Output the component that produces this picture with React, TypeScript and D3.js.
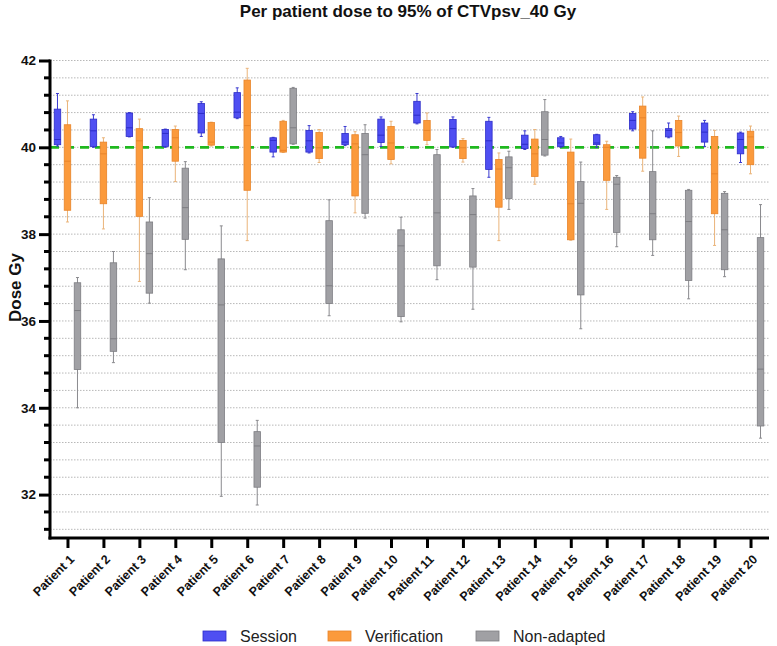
import React, { useRef, useEffect } from 'react';
import * as d3 from 'd3';

// values: [min, q1, median, q3, max] per patient
const patients = d3.range(1, 21).map(i => `Patient ${i}`);

const sessionStats = [
  [40.03, 40.06, 40.18, 40.88, 41.24],
  [40.0, 40.02, 40.38, 40.65, 40.75],
  [40.24, 40.25, 40.45, 40.79, 40.8],
  [40.0, 40.02, 40.32, 40.41, 40.42],
  [40.25, 40.33, 40.78, 41.01, 41.05],
  [40.66, 40.68, 40.81, 41.26, 41.37],
  [39.78, 39.89, 40.16, 40.22, 40.23],
  [39.87, 39.89, 40.15, 40.39, 40.5],
  [40.04, 40.06, 40.12, 40.32, 40.48],
  [40.02, 40.11, 40.28, 40.65, 40.7],
  [40.54, 40.56, 40.74, 41.06, 41.24],
  [40.0, 40.01, 40.43, 40.64, 40.7],
  [39.31, 39.49, 40.15, 40.6, 40.69],
  [39.95, 39.97, 40.07, 40.28, 40.38],
  [40.0, 40.02, 40.1, 40.22, 40.25],
  [40.0, 40.06, 40.1, 40.29, 40.3],
  [40.38, 40.42, 40.62, 40.78, 40.82],
  [40.22, 40.24, 40.39, 40.43, 40.56],
  [40.02, 40.12, 40.35, 40.56, 40.62],
  [39.65, 39.85, 40.18, 40.33, 40.35],
];

const verificationStats = [
  [38.28, 38.55, 39.68, 40.52, 41.07],
  [38.12, 38.7, 39.85, 40.12, 40.22],
  [36.91, 38.41, 40.15, 40.43, 40.65],
  [39.21, 39.68, 40.22, 40.41, 40.49],
  [40.03, 40.05, 40.12, 40.57, 40.58],
  [37.85, 39.01, 40.5, 41.55, 41.82],
  [39.88, 39.89, 39.93, 40.6, 40.62],
  [39.65, 39.74, 39.99, 40.34, 40.41],
  [38.49, 38.88, 40.08, 40.29, 40.36],
  [39.62, 39.72, 40.1, 40.48, 40.6],
  [40.06, 40.16, 40.39, 40.62, 40.79],
  [39.66, 39.74, 39.99, 40.16, 40.2],
  [37.85, 38.62, 39.5, 39.72, 39.87],
  [39.15, 39.33, 39.85, 40.19, 40.41],
  [37.86, 37.87, 38.7, 39.89, 40.19],
  [38.57, 39.24, 40.0, 40.06, 40.14],
  [39.45, 39.75, 40.68, 40.95, 41.16],
  [39.79, 40.03, 40.34, 40.62, 40.72],
  [37.74, 38.47, 39.39, 40.25, 40.39],
  [39.39, 39.6, 40.24, 40.37, 40.49],
];

const nonAdaptedStats = [
  [34.0, 34.88, 36.24, 36.88, 37.0],
  [35.04, 35.3, 35.59, 37.34, 37.6],
  [36.41, 36.64, 37.55, 38.28, 38.84],
  [37.18, 37.88, 38.61, 39.52, 39.67],
  [31.96, 33.2, 36.37, 37.43, 38.19],
  [31.76, 32.17, 33.12, 33.45, 33.71],
  [40.07, 40.08, 40.45, 41.36, 41.38],
  [36.12, 36.4, 36.81, 38.31, 38.79],
  [38.37, 38.48, 39.83, 40.32, 40.52],
  [35.98, 36.1, 37.73, 38.1, 38.39],
  [36.95, 37.27, 38.49, 39.83, 39.95],
  [36.27, 37.24, 38.45, 38.88, 39.05],
  [38.57, 38.82, 39.53, 39.78, 39.91],
  [39.8, 39.82, 40.18, 40.82, 41.1],
  [35.82, 36.6, 38.71, 39.21, 39.66],
  [37.71, 38.04, 39.15, 39.31, 39.35],
  [37.51, 37.87, 38.47, 39.44, 40.38],
  [36.51, 36.93, 38.29, 39.01, 39.03],
  [37.02, 37.18, 38.1, 38.94, 38.98],
  [33.3, 33.58, 34.89, 37.92, 38.68],
];

const seriesNames = ['Session', 'Verification', 'Non-adapted'];
const yTicks = [32, 34, 36, 38, 40, 42];
const threshold = 40;

const series = [
  { name: seriesNames[0], stats: sessionStats, fill: '#4f4ff2', stroke: '#2c2cc8', whisker: '#3a3ad0', offset: -10 },
  { name: seriesNames[1], stats: verificationStats, fill: '#fb9a3c', stroke: '#e8842a', whisker: '#eab47a', offset: 0 },
  { name: seriesNames[2], stats: nonAdaptedStats, fill: '#a0a0a4', stroke: '#7d7d82', whisker: '#8a8a8e', offset: 10 },
];

function BoxChart() {
  const ref = useRef<SVGSVGElement>(null);

  useEffect(() => {
    const svg = d3.select(ref.current);
    svg.selectAll('*').remove();

    const width = 777;
    const height = 646;
    const margin = { top: 60, right: 8, bottom: 108, left: 50 };
    const font = 'Liberation Sans, Arial, Helvetica, sans-serif';

    const x = d3.scaleBand()
      .domain(patients)
      .range([margin.left, width - margin.right]);

    const y = d3.scaleLinear()
      .domain([31, 42])
      .range([height - margin.bottom, margin.top + 0.5]);

    const minorTicks = d3.range(31.2, 42.01, 0.4);

    // dotted grid
    svg.append('g')
      .selectAll('line')
      .data(minorTicks)
      .join('line')
      .attr('x1', margin.left)
      .attr('x2', width - margin.right)
      .attr('y1', d => y(d))
      .attr('y2', d => y(d))
      .attr('stroke', '#b8b8b8')
      .attr('stroke-width', 1)
      .attr('stroke-dasharray', '1.5,1.5');

    // threshold
    svg.append('line')
      .attr('x1', margin.left)
      .attr('x2', width - margin.right)
      .attr('y1', y(threshold))
      .attr('y2', y(threshold))
      .attr('stroke', '#1fb81f')
      .attr('stroke-width', 2.8)
      .attr('stroke-dasharray', '9,6');

    // boxes
    const boxW = 6.5;
    const cap = 3;
    series.forEach(s => {
      const g = svg.append('g');
      s.stats.forEach((st, i) => {
        const [mn, q1, med, q3, mx] = st;
        const cx = x(patients[i])! + x.bandwidth() / 2 - 0.5 + s.offset;
        g.append('line')
          .attr('x1', cx).attr('x2', cx)
          .attr('y1', y(mx)).attr('y2', y(mn))
          .attr('stroke', s.whisker).attr('stroke-width', 1);
        [mn, mx].forEach(v => {
          g.append('line')
            .attr('x1', cx - cap / 2).attr('x2', cx + cap / 2)
            .attr('y1', y(v)).attr('y2', y(v))
            .attr('stroke', s.whisker).attr('stroke-width', 1);
        });
        g.append('rect')
          .attr('x', cx - boxW / 2)
          .attr('y', y(q3))
          .attr('width', boxW)
          .attr('height', Math.max(1, y(q1) - y(q3)))
          .attr('fill', s.fill)
          .attr('stroke', s.stroke)
          .attr('stroke-width', 0.8);
        g.append('line')
          .attr('x1', cx - boxW / 2).attr('x2', cx + boxW / 2)
          .attr('y1', y(med)).attr('y2', y(med))
          .attr('stroke', s.stroke).attr('stroke-width', 1);
      });
    });

    // y axis
    const yAxis = svg.append('g')
      .attr('transform', `translate(${margin.left},0)`)
      .call(d3.axisLeft(y).tickValues(yTicks).tickSize(11).tickPadding(3).tickFormat(d3.format('d')));
    yAxis.select('.domain').remove();
    yAxis.selectAll('.tick line').attr('stroke', '#000').attr('stroke-width', 3);
    yAxis.selectAll('.tick text')
      .attr('font-family', font).attr('font-weight', 'bold').attr('font-size', 13.5).attr('fill', '#111');
    svg.append('g')
      .selectAll('line')
      .data(minorTicks.filter(v => !yTicks.some(t => Math.abs(t - v) < 0.01)))
      .join('line')
      .attr('x1', margin.left - 6).attr('x2', margin.left)
      .attr('y1', d => y(d)).attr('y2', d => y(d))
      .attr('stroke', '#000').attr('stroke-width', 3);
    svg.append('line')
      .attr('x1', margin.left).attr('x2', margin.left)
      .attr('y1', y(42) - 1).attr('y2', y(31) + 1.5)
      .attr('stroke', '#000').attr('stroke-width', 3);

    // x axis
    const xAxis = svg.append('g')
      .attr('transform', `translate(0,${y(31)})`)
      .call(d3.axisBottom(x).tickSize(10).tickSizeOuter(0));
    xAxis.select('.domain').remove();
    xAxis.selectAll('.tick line').attr('stroke', '#000').attr('stroke-width', 3);
    xAxis.selectAll('.tick text')
      .attr('font-family', font).attr('font-weight', 'bold').attr('font-size', 12.5).attr('fill', '#111')
      .attr('text-anchor', 'end')
      .attr('y', 0)
      .attr('dy', '0.35em')
      .attr('transform', 'translate(4,19) rotate(-45)');
    svg.append('line')
      .attr('x1', margin.left - 1.5).attr('x2', width - margin.right)
      .attr('y1', y(31)).attr('y2', y(31))
      .attr('stroke', '#000').attr('stroke-width', 3);

    // title
    svg.append('text')
      .attr('x', 408).attr('y', 17)
      .attr('text-anchor', 'middle')
      .attr('font-family', font).attr('font-weight', 'bold').attr('font-size', 17)
      .attr('fill', '#111')
      .text('Per patient dose to 95% of CTVpsv_40 Gy');

    // y label
    svg.append('text')
      .attr('transform', `translate(21,${y(36.77)}) rotate(-90)`)
      .attr('text-anchor', 'middle')
      .attr('font-family', font).attr('font-weight', 'bold').attr('font-size', 17)
      .attr('fill', '#111')
      .text('Dose Gy');

    // legend
    const legendX = [203, 328, 476];
    const legend = svg.append('g');
    series.forEach((s, i) => {
      legend.append('rect')
        .attr('x', legendX[i]).attr('y', 631)
        .attr('width', 23).attr('height', 10)
        .attr('fill', s.fill).attr('stroke', s.stroke).attr('stroke-width', 0.8);
      legend.append('text')
        .attr('x', legendX[i] + 37).attr('y', 642)
        .attr('font-family', font).attr('font-size', 16)
        .attr('fill', '#222')
        .text(s.name);
    });
  }, []);

  return <svg ref={ref} width={777} height={646} style={{ display: 'block' }}></svg>;
}

export default function App() {
  return (
    <div style={{ position: 'absolute', left: 0, top: 0, background: '#fff' }}>
      <BoxChart />
    </div>
  );
}
